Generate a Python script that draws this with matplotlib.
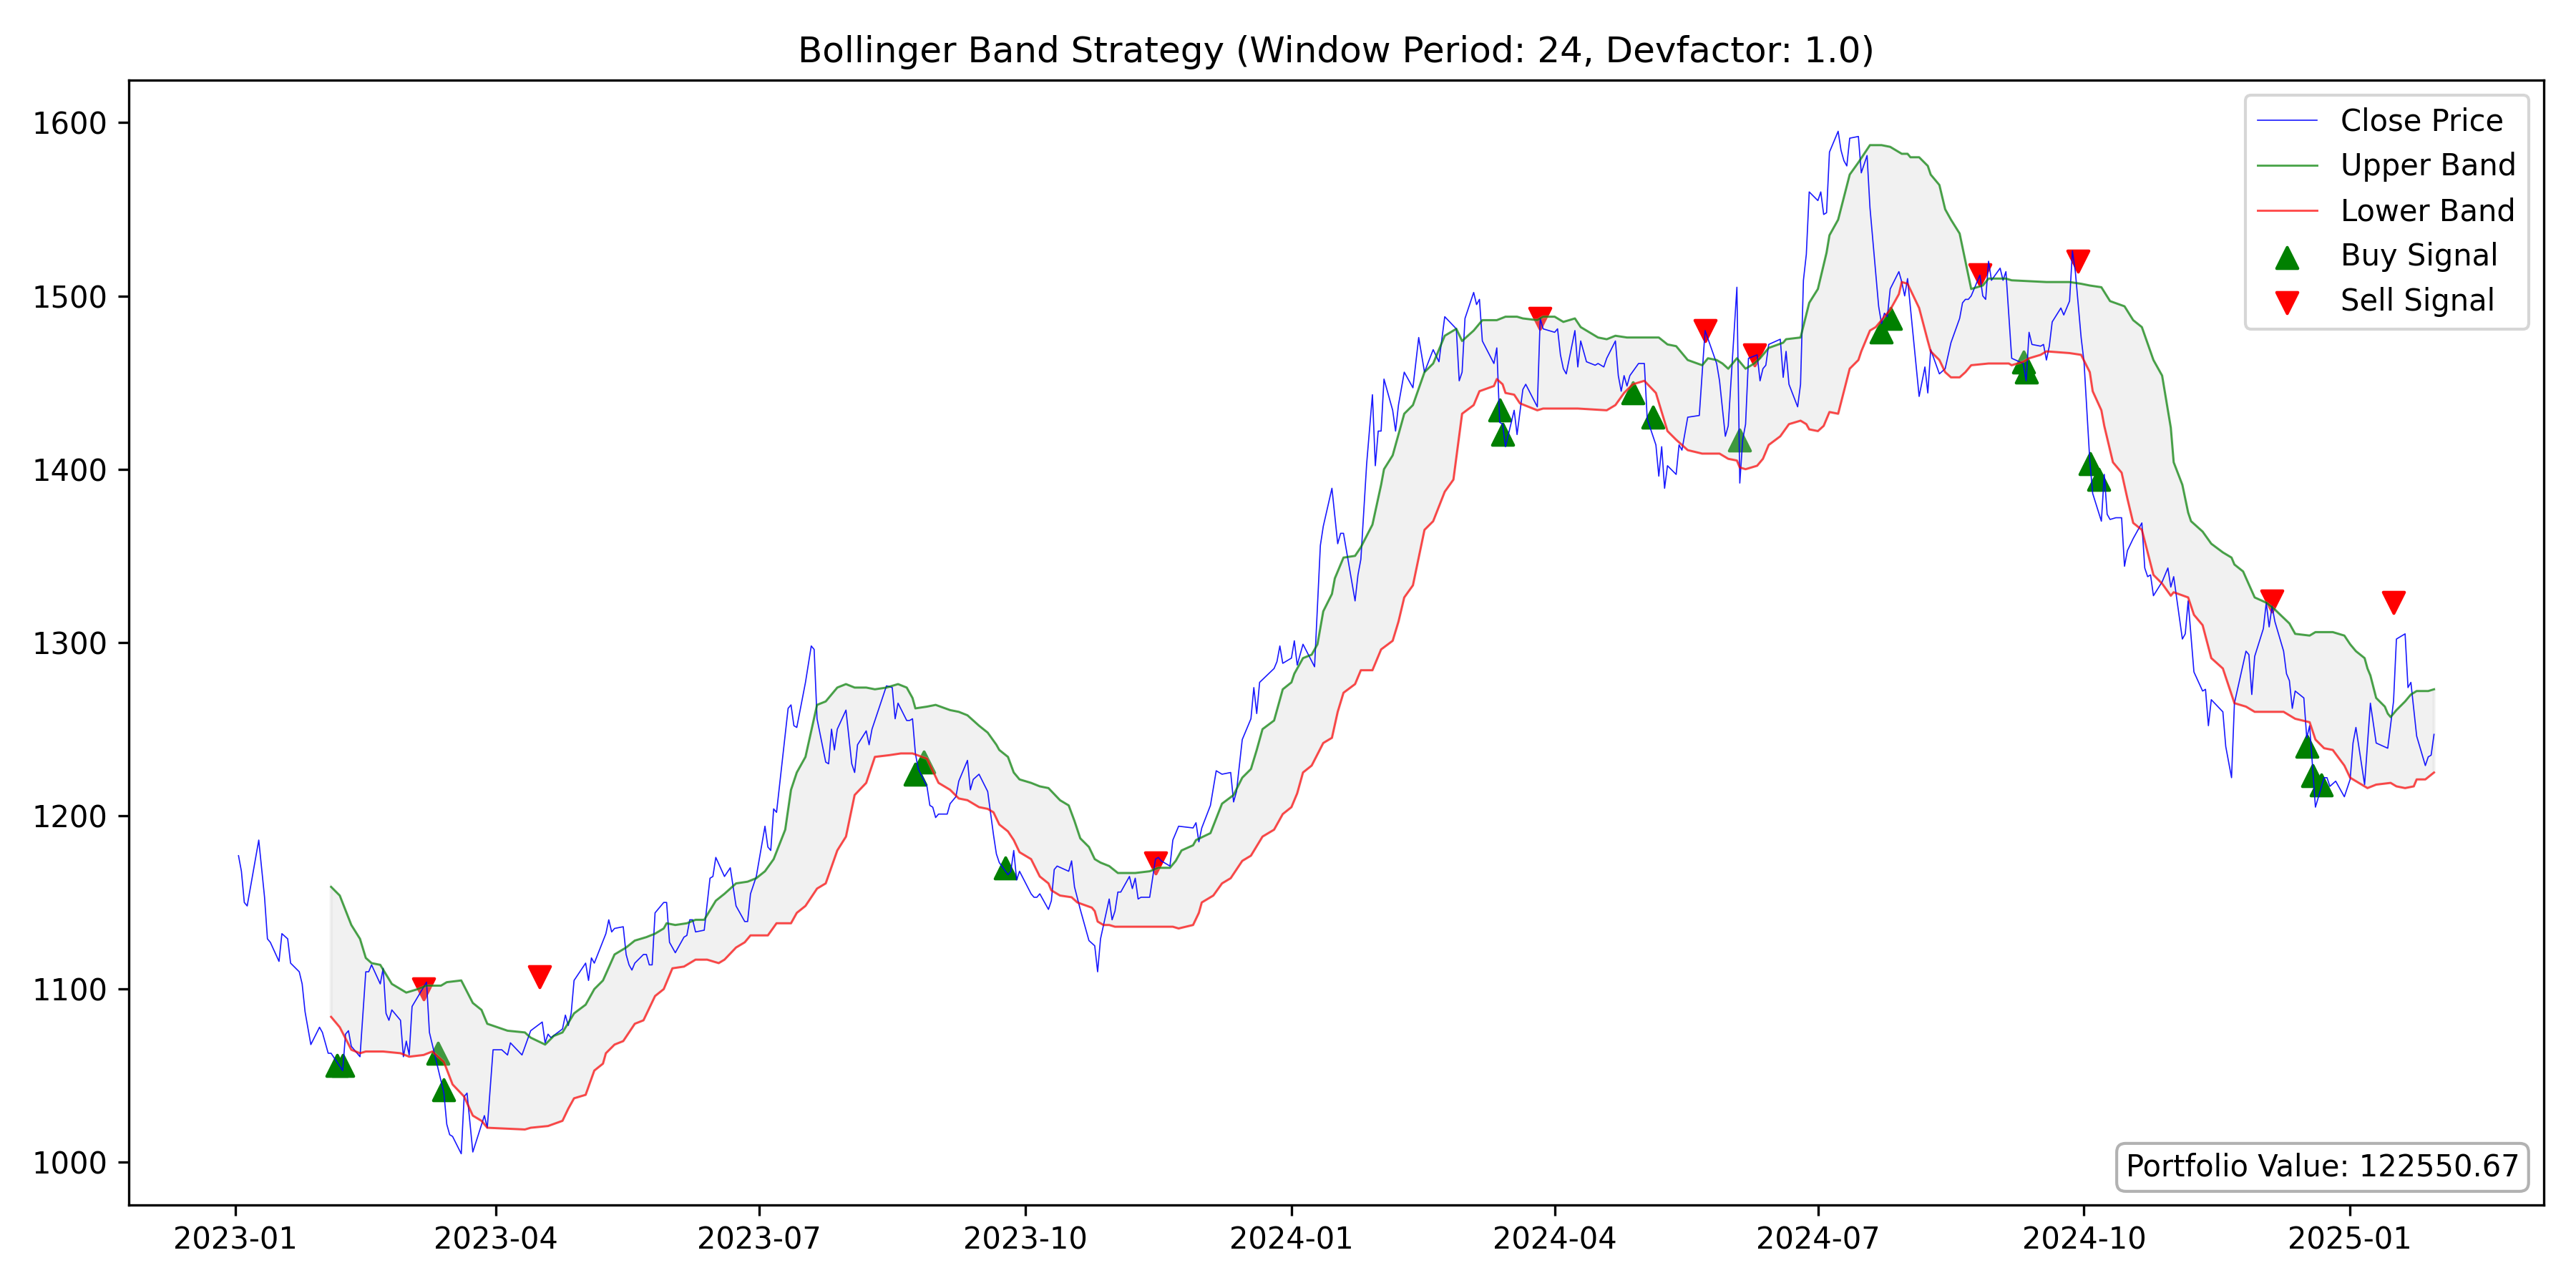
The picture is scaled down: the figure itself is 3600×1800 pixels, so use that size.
import pandas as pd
import matplotlib
matplotlib.use("Agg")
import matplotlib.pyplot as plt

# all x values are days since 2023-01-01
START = pd.Timestamp("2023-01-01")

close_day = [
    1, 2, 3, 4, 8, 10, 11, 12, 15, 16, 18, 19, 22, 23, 24, 26, 29, 30, 32, 33,
    37, 38, 39, 40, 43, 45, 46, 47, 50, 51, 52, 53, 54, 57, 58, 59, 60, 61, 66, 67,
    72, 73, 74, 75, 78, 79, 80, 82, 86, 87, 89, 92, 94, 95, 99, 102, 106, 107, 108, 109,
    113, 114, 115, 116, 117, 121, 122, 123, 124, 128, 129, 130, 131, 134, 135, 136, 137, 138, 141, 142,
    143, 144, 145, 148, 149, 150, 152, 155, 156, 157, 158, 159, 162, 164, 165, 166, 169, 171, 173, 176,
    177, 178, 180, 183, 184, 185, 186, 187, 191, 192, 193, 194, 197, 199, 200, 201, 204, 205, 206, 207,
    208, 211, 213, 214, 215, 218, 219, 220, 225, 227, 228, 229, 232, 233, 234, 235, 236, 239, 240, 241,
    242, 243, 246, 247, 249, 250, 253, 254, 255, 257, 260, 262, 263, 264, 267, 268, 269, 270, 271, 275,
    276, 277, 278, 281, 282, 283, 284, 288, 289, 290, 292, 295, 297, 298, 299, 302, 303, 304, 305, 306,
    309, 310, 311, 312, 313, 316, 318, 319, 320, 323, 324, 326, 331, 332, 333, 334, 337, 339, 341, 344,
    345, 346, 348, 351, 352, 353, 354, 359, 360, 361, 362, 365, 366, 367, 369, 373, 375, 376, 379, 381,
    382, 383, 387, 388, 389, 391, 393, 394, 395, 396, 397, 400, 401, 402, 404, 407, 409, 411, 414, 416,
    418, 422, 423, 424, 425, 428, 429, 430, 431, 435, 436, 437, 438, 439, 442, 443, 445, 446, 450, 451,
    452, 456, 457, 458, 459, 460, 463, 464, 465, 467, 470, 471, 473, 474, 477, 478, 479, 480, 481, 482,
    485, 487, 488, 489, 491, 492, 493, 494, 495, 498, 499, 500, 502, 506, 508, 512, 513, 515, 516, 519,
    520, 521, 522, 523, 526, 527, 528, 529, 530, 534, 535, 536, 537, 540, 541, 542, 543, 544, 547, 548,
    549, 550, 551, 554, 555, 556, 557, 558, 561, 562, 564, 565, 568, 569, 570, 571, 572, 575, 576, 577,
    578, 582, 584, 585, 586, 589, 591, 593, 596, 597, 598, 599, 600, 603, 604, 605, 606, 607, 610, 611,
    612, 614, 618, 619, 620, 621, 624, 625, 626, 627, 628, 631, 632, 634, 635, 636, 638, 639, 641, 642,
    645, 646, 647, 648, 650, 652, 653, 654, 656, 659, 660, 661, 662, 663, 666, 668, 669, 670, 673, 674,
    675, 677, 680, 681, 682, 683, 687, 688, 690, 691, 695, 696, 697, 698, 701, 702, 703, 704, 705, 708,
    709, 710, 711, 712, 715, 716, 717, 719, 722, 723, 724, 726, 729, 731, 732, 733, 736, 738, 740, 744,
    746, 747, 750, 751, 752, 754, 757, 758, 759, 760,
]
close_price = [
    1177, 1168, 1150, 1148, 1186, 1153, 1129, 1127, 1116, 1132, 1129, 1115, 1110, 1103, 1087, 1068, 1078, 1075, 1063, 1063,
    1053, 1074, 1076, 1067, 1061, 1110, 1110, 1114, 1103, 1112, 1086, 1082, 1088, 1082, 1061, 1070, 1062, 1090, 1104, 1075,
    1040, 1022, 1016, 1015, 1005, 1038, 1040, 1006, 1027, 1020, 1065, 1065, 1062, 1069, 1062, 1076, 1081, 1069, 1074, 1072,
    1077, 1085, 1079, 1086, 1105, 1115, 1105, 1118, 1115, 1132, 1140, 1133, 1135, 1136, 1120, 1114, 1111, 1115, 1120, 1120,
    1114, 1114, 1144, 1150, 1150, 1127, 1121, 1130, 1131, 1140, 1140, 1133, 1134, 1164, 1165, 1176, 1165, 1170, 1148, 1139,
    1139, 1155, 1165, 1194, 1182, 1180, 1204, 1202, 1262, 1264, 1252, 1251, 1277, 1298, 1296, 1256, 1231, 1230, 1250, 1238,
    1250, 1261, 1230, 1225, 1241, 1249, 1241, 1250, 1275, 1274, 1256, 1265, 1255, 1255, 1256, 1236, 1227, 1217, 1206, 1205,
    1199, 1201, 1201, 1207, 1211, 1220, 1232, 1215, 1221, 1224, 1214, 1189, 1178, 1173, 1166, 1168, 1180, 1163, 1168, 1155,
    1153, 1153, 1155, 1146, 1151, 1169, 1171, 1168, 1174, 1159, 1146, 1128, 1125, 1110, 1129, 1152, 1140, 1145, 1156, 1156,
    1165, 1158, 1164, 1152, 1153, 1153, 1175, 1176, 1174, 1171, 1186, 1194, 1193, 1196, 1185, 1193, 1206, 1226, 1224, 1225,
    1208, 1214, 1244, 1256, 1274, 1259, 1277, 1285, 1289, 1298, 1288, 1291, 1301, 1287, 1299, 1286, 1356, 1367, 1389, 1357,
    1363, 1363, 1324, 1339, 1348, 1403, 1443, 1402, 1422, 1422, 1452, 1434, 1422, 1437, 1456, 1447, 1476, 1456, 1469, 1462,
    1488, 1481, 1451, 1456, 1487, 1502, 1495, 1498, 1474, 1461, 1470, 1427, 1426, 1413, 1434, 1420, 1446, 1449, 1436, 1487,
    1481, 1479, 1481, 1466, 1458, 1455, 1480, 1459, 1474, 1462, 1460, 1461, 1459, 1464, 1474, 1454, 1445, 1454, 1448, 1454,
    1461, 1461, 1429, 1424, 1414, 1396, 1413, 1389, 1402, 1397, 1414, 1411, 1430, 1431, 1480, 1461, 1451, 1419, 1425, 1505,
    1392, 1417, 1426, 1464, 1466, 1451, 1458, 1460, 1472, 1475, 1453, 1468, 1449, 1436, 1449, 1509, 1524, 1560, 1555, 1560,
    1547, 1548, 1583, 1595, 1584, 1578, 1575, 1591, 1592, 1571, 1581, 1551, 1494, 1484, 1490, 1488, 1504, 1514, 1508, 1500,
    1510, 1442, 1459, 1444, 1469, 1455, 1458, 1473, 1487, 1496, 1498, 1498, 1500, 1512, 1500, 1498, 1520, 1509, 1516, 1509,
    1514, 1464, 1461, 1451, 1479, 1472, 1471, 1472, 1463, 1471, 1485, 1493, 1489, 1497, 1526, 1514, 1476, 1462, 1405, 1386,
    1370, 1397, 1374, 1371, 1372, 1372, 1344, 1353, 1360, 1369, 1343, 1338, 1339, 1327, 1335, 1343, 1332, 1338, 1302, 1305,
    1324, 1283, 1272, 1273, 1252, 1267, 1260, 1240, 1222, 1265, 1295, 1293, 1270, 1292, 1308, 1323, 1309, 1321, 1312, 1295,
    1282, 1278, 1262, 1272, 1268, 1245, 1252, 1205, 1222, 1222, 1217, 1220, 1211, 1221, 1242, 1251, 1218, 1265, 1242, 1239,
    1266, 1302, 1305, 1274, 1277, 1246, 1229, 1234, 1235, 1247,
]

upper_day = [
    33, 36, 40, 43, 45, 47, 50, 54, 57, 59, 63, 66, 71, 73, 78, 82, 85, 87, 94, 100,
    102, 107, 110, 113, 117, 121, 124, 127, 131, 135, 138, 142, 145, 148, 149, 152, 156, 159, 162, 166,
    169, 173, 177, 180, 183, 186, 190, 192, 194, 197, 201, 204, 208, 211, 214, 218, 221, 225, 229, 232,
    234, 235, 239, 242, 247, 250, 253, 257, 260, 263, 264, 267, 269, 271, 275, 278, 281, 285, 288, 290,
    292, 295, 297, 299, 302, 305, 309, 311, 316, 319, 323, 325, 327, 331, 332, 337, 341, 345, 348, 351,
    353, 355, 359, 362, 365, 366, 369, 372, 374, 376, 379, 380, 383, 387, 389, 393, 396, 397, 400, 404,
    407, 411, 414, 418, 422, 424, 428, 431, 436, 439, 443, 445, 450, 452, 456, 459, 463, 465, 471, 474,
    477, 481, 488, 492, 495, 498, 500, 502, 507, 509, 512, 514, 516, 519, 522, 525, 527, 530, 535, 536,
    541, 544, 547, 550, 551, 554, 558, 561, 565, 569, 572, 575, 576, 578, 579, 582, 585, 586, 589, 591,
    593, 596, 598, 600, 604, 606, 612, 614, 626, 634, 638, 641, 645, 648, 653, 656, 659, 663, 666, 669,
    670, 673, 675, 676, 680, 683, 687, 690, 691, 694, 698, 702, 705, 710, 712, 717, 719, 725, 729, 731,
    733, 736, 737, 738, 740, 743, 744, 745, 747, 750, 752, 754, 758, 760,
]
upper_band = [
    1159, 1154, 1137, 1129, 1118, 1115, 1114, 1103, 1100, 1098, 1100, 1102, 1102, 1104, 1105, 1092, 1088, 1080, 1076, 1075,
    1072, 1068, 1073, 1075, 1086, 1091, 1100, 1105, 1120, 1124, 1128, 1130, 1132, 1135, 1138, 1137, 1138, 1140, 1140, 1151,
    1155, 1161, 1162, 1164, 1168, 1175, 1192, 1215, 1225, 1234, 1264, 1266, 1274, 1276, 1274, 1274, 1273, 1274, 1276, 1274,
    1268, 1262, 1263, 1264, 1261, 1260, 1258, 1252, 1248, 1241, 1238, 1234, 1225, 1221, 1219, 1217, 1216, 1209, 1206, 1197,
    1187, 1182, 1175, 1173, 1171, 1167, 1167, 1167, 1168, 1170, 1170, 1174, 1180, 1183, 1186, 1190, 1207, 1212, 1222, 1227,
    1238, 1250, 1255, 1273, 1277, 1282, 1291, 1293, 1299, 1318, 1328, 1337, 1349, 1350, 1355, 1368, 1391, 1400, 1408, 1432,
    1437, 1456, 1461, 1477, 1481, 1474, 1480, 1486, 1486, 1488, 1488, 1487, 1486, 1488, 1488, 1485, 1487, 1482, 1476, 1475,
    1477, 1476, 1476, 1476, 1472, 1471, 1467, 1463, 1460, 1464, 1463, 1461, 1458, 1464, 1458, 1461, 1464, 1470, 1473, 1475,
    1476, 1496, 1504, 1525, 1535, 1544, 1570, 1577, 1587, 1587, 1586, 1583, 1582, 1582, 1580, 1580, 1575, 1570, 1564, 1550,
    1544, 1536, 1520, 1504, 1506, 1510, 1510, 1509, 1508, 1508, 1507, 1506, 1505, 1497, 1494, 1486, 1482, 1463, 1454, 1424,
    1404, 1391, 1375, 1370, 1364, 1357, 1352, 1349, 1345, 1341, 1326, 1323, 1319, 1311, 1305, 1304, 1306, 1306, 1304, 1299,
    1295, 1291, 1285, 1281, 1268, 1263, 1259, 1257, 1261, 1266, 1270, 1272, 1272, 1273,
]

lower_day = [
    33, 36, 40, 43, 45, 51, 57, 60, 65, 68, 72, 75, 79, 82, 85, 87, 100, 102, 108, 113,
    115, 117, 121, 124, 127, 128, 131, 134, 138, 141, 145, 148, 151, 155, 159, 163, 167, 169, 173, 176,
    178, 184, 187, 192, 194, 197, 201, 204, 208, 211, 214, 218, 221, 226, 230, 234, 239, 243, 247, 250,
    253, 257, 260, 262, 264, 267, 269, 271, 275, 278, 281, 282, 285, 289, 291, 296, 297, 298, 300, 302,
    304, 313, 319, 324, 326, 331, 333, 334, 338, 341, 344, 348, 351, 355, 359, 362, 365, 367, 369, 372,
    376, 379, 381, 383, 387, 389, 393, 396, 400, 402, 404, 407, 411, 414, 418, 421, 424, 428, 430, 435,
    436, 438, 439, 442, 444, 450, 452, 459, 464, 474, 477, 480, 483, 487, 491, 493, 495, 498, 502, 507,
    513, 516, 519, 520, 522, 526, 528, 530, 534, 537, 541, 543, 544, 547, 549, 551, 554, 558, 561, 562,
    565, 567, 572, 575, 576, 578, 582, 585, 586, 589, 591, 593, 596, 598, 600, 606, 613, 614, 618, 620,
    624, 626, 634, 638, 641, 642, 645, 646, 649, 652, 654, 656, 659, 663, 666, 669, 670, 675, 677, 680,
    683, 687, 689, 691, 695, 698, 704, 708, 712, 717, 719, 722, 725, 729, 731, 734, 737, 740, 745, 747,
    750, 753, 754, 757, 760,
]
lower_band = [
    1084, 1078, 1065, 1063, 1064, 1064, 1063, 1061, 1062, 1064, 1058, 1045, 1038, 1027, 1024, 1020, 1019, 1020, 1021, 1024,
    1031, 1037, 1039, 1053, 1057, 1063, 1068, 1070, 1080, 1082, 1096, 1100, 1112, 1113, 1117, 1117, 1115, 1117, 1124, 1127,
    1131, 1131, 1138, 1138, 1144, 1148, 1158, 1161, 1180, 1188, 1212, 1219, 1234, 1235, 1236, 1236, 1233, 1219, 1215, 1210,
    1209, 1205, 1204, 1202, 1195, 1191, 1186, 1179, 1175, 1165, 1161, 1157, 1154, 1153, 1150, 1147, 1145, 1139, 1137, 1137,
    1136, 1136, 1136, 1136, 1135, 1137, 1144, 1150, 1154, 1161, 1164, 1174, 1177, 1188, 1192, 1201, 1205, 1213, 1225, 1229,
    1242, 1245, 1260, 1271, 1276, 1284, 1284, 1296, 1301, 1312, 1326, 1333, 1365, 1370, 1387, 1394, 1432, 1437, 1445, 1448,
    1452, 1449, 1444, 1443, 1438, 1434, 1435, 1435, 1435, 1434, 1437, 1444, 1449, 1451, 1444, 1433, 1422, 1417, 1411, 1409,
    1409, 1406, 1405, 1401, 1400, 1402, 1406, 1414, 1419, 1426, 1428, 1426, 1423, 1422, 1425, 1433, 1432, 1458, 1463, 1468,
    1480, 1482, 1492, 1501, 1508, 1507, 1493, 1474, 1468, 1463, 1456, 1453, 1453, 1456, 1460, 1461, 1461, 1460, 1462, 1464,
    1466, 1468, 1467, 1466, 1456, 1445, 1434, 1425, 1404, 1398, 1383, 1369, 1365, 1339, 1334, 1327, 1329, 1326, 1316, 1310,
    1291, 1285, 1275, 1265, 1263, 1260, 1260, 1260, 1256, 1254, 1244, 1239, 1238, 1229, 1222, 1219, 1216, 1218, 1219, 1217,
    1216, 1217, 1221, 1221, 1225,
]

buy_day = [35, 37, 70, 72, 235, 238, 266, 437, 438, 483, 490, 520, 569, 572, 618, 619, 641, 644, 716, 718, 721]
buy_price = [1056, 1056, 1063, 1042, 1224, 1231, 1170, 1434, 1420, 1444, 1430, 1417, 1479, 1487, 1462, 1456,
             1403, 1394, 1240, 1223, 1218]

sell_day = [65, 105, 318, 451, 508, 525, 603, 637, 704, 746]
sell_price = [1100, 1107, 1173, 1487, 1480, 1466, 1512, 1520, 1324, 1323]

portfolio_value = 122550.67
window_period = 24
devfactor = 1.0


def to_dates(days):
    return START + pd.to_timedelta(days, unit="D")


fig, ax = plt.subplots(figsize=(12, 6))

ax.plot(to_dates(close_day), close_price, label="Close Price", color="blue", linewidth=0.4, alpha=0.9)
ax.plot(to_dates(upper_day), upper_band, label="Upper Band", color="green", linewidth=0.7, alpha=0.7)
ax.plot(to_dates(lower_day), lower_band, label="Lower Band", color="red", linewidth=0.7, alpha=0.7)
ax.scatter(to_dates(buy_day), buy_price, marker="^", color="green", s=50, label="Buy Signal")
ax.scatter(to_dates(sell_day), sell_price, marker="v", color="red", s=50, label="Sell Signal")

# band area: upper edge forward, lower edge backward
band_x = list(to_dates(upper_day)) + list(to_dates(lower_day))[::-1]
band_y = upper_band + lower_band[::-1]
ax.fill(band_x, band_y, color="lightgray", alpha=0.3)

ax.set_title(f"Bollinger Band Strategy (Window Period: {window_period}, Devfactor: {devfactor})")
ax.legend(loc="upper right")
ax.text(0.99, 0.02, f"Portfolio Value: {portfolio_value:.2f}", transform=ax.transAxes,
        ha="right", va="bottom", bbox=dict(boxstyle="round", facecolor="white", alpha=0.3))

plt.tight_layout()
plt.savefig("out.png", dpi=300)
